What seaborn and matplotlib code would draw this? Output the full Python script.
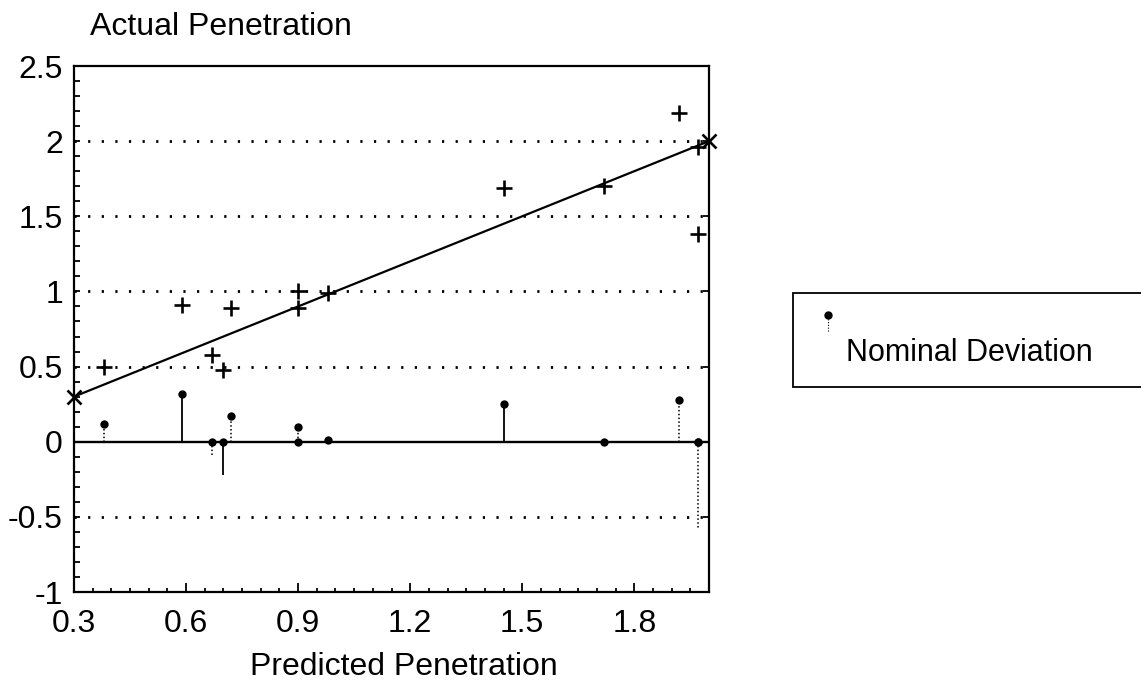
import matplotlib
matplotlib.use("Agg")
import matplotlib.pyplot as plt
from matplotlib.lines import Line2D
from matplotlib.legend_handler import HandlerBase
from matplotlib.ticker import MultipleLocator
import numpy as np
import pandas as pd
import seaborn as sns

# ---- data -------------------------------------------------------------
predicted = [0.38, 0.59, 0.67, 0.70, 0.72, 0.90, 0.90, 0.98, 1.45, 1.72, 1.92, 1.97, 1.97]
actual = [0.50, 0.91, 0.58, 0.48, 0.89, 1.00, 0.89, 0.99, 1.69, 1.70, 2.19, 1.96, 1.38]
deviation = [0.12, 0.32, -0.09, -0.22, 0.17, 0.10, -0.01, 0.01, 0.25, -0.02, 0.28, -0.01, -0.58]
stem_style = ["dotted", "solid", "dotted", "solid", "dotted", "dotted", "solid",
              "solid", "solid", "solid", "dotted", "solid", "dotted"]

fit_x = [0.3, 2.0]
fit_y = [0.3, 2.0]

x_ticks = [0.3, 0.6, 0.9, 1.2, 1.5, 1.8]
x_tick_labels = ["0.3", "0.6", "0.9", "1.2", "1.5", "1.8"]
y_ticks = [-1, -0.5, 0, 0.5, 1, 1.5, 2, 2.5]
y_tick_labels = ["-1", "-0.5", "0", "0.5", "1", "1.5", "2", "2.5"]
grid_levels = [-0.5, 0.5, 1, 1.5, 2]

title_text = "Actual Penetration"
xlabel_text = "Predicted Penetration"
legend_label = "Nominal Deviation"

# ---- style ------------------------------------------------------------
sns.set_theme(style="white")
plt.rcParams["font.family"] = ["Liberation Sans", "DejaVu Sans"]
plt.rcParams["axes.unicode_minus"] = False

W, H = 1141, 698
fig = plt.figure(figsize=(W / 100, H / 100), dpi=100)
ax = fig.add_axes([74 / W, 1 - 592 / H, 635 / W, 526 / H])

df = pd.DataFrame({
    "predicted": predicted,
    "actual": actual,
    "deviation": deviation,
    "stem": stem_style,
})
df["dot"] = df["deviation"].clip(lower=0)

# dotted reference levels and the solid zero line
for level in grid_levels:
    ax.axhline(level, color="black", lw=2.0, ls=(0, (0.8, 4.1)), zorder=1)
ax.axhline(0, color="black", lw=1.7, zorder=2)

# deviation stems from zero
solid = df[df["stem"] == "solid"]
dotted = df[df["stem"] == "dotted"]
ax.vlines(solid["predicted"], 0, solid["deviation"], color="black", lw=1.3, zorder=3)
ax.vlines(dotted["predicted"], 0, dotted["deviation"], color="black", lw=1.1,
          linestyles=[(0, (1.0, 1.5))], zorder=3)

# deviation dots
sns.scatterplot(data=df, x="predicted", y="dot", marker="o", s=36, color="black",
                edgecolor="black", linewidth=0, ax=ax, zorder=4, legend=False)

# perfect-prediction line with its end markers
sns.lineplot(x=fit_x, y=fit_y, ax=ax, color="black", lw=1.6, marker="x",
             markersize=10, markeredgewidth=1.9, markeredgecolor="black",
             zorder=5, legend=False, clip_on=False)

# actual vs predicted points
sns.scatterplot(data=df, x="predicted", y="actual", marker="+", s=130,
                color="black", linewidth=1.9, ax=ax, zorder=6, legend=False)

# ---- axes -------------------------------------------------------------
ax.set_xlim(0.3, 2.0)
ax.set_ylim(-1, 2.5)
ax.set_xticks(x_ticks)
ax.set_xticklabels(x_tick_labels)
ax.set_yticks(y_ticks)
ax.set_yticklabels(y_tick_labels)
ax.xaxis.set_minor_locator(MultipleLocator(0.05))
ax.yaxis.set_minor_locator(MultipleLocator(0.1))
ax.tick_params(which="both", direction="in", colors="black", labelsize=23,
               width=1.3, labelcolor="black", bottom=True, left=True,
               top=False)
ax.tick_params(axis="x", which="major", length=6.5, pad=12)
ax.tick_params(axis="x", which="minor", length=3)
ax.tick_params(axis="y", which="major", length=4.3, pad=8, right=True)
ax.tick_params(axis="y", which="minor", length=4.3, right=False)
for sp in ax.spines.values():
    sp.set_color("black")
    sp.set_linewidth(1.6)
ax.set_ylabel("")
ax.set_xlabel(xlabel_text, fontsize=23, color="black")
ax.xaxis.set_label_coords(0.52, -0.115)
ax.xaxis.label.set_verticalalignment("top")

ax.text(0.025, 1.059, title_text, transform=ax.transAxes, fontsize=23,
        color="black", ha="left", va="baseline")


# ---- legend -------------------------------------------------------------
class StemHandler(HandlerBase):
    def create_artists(self, legend, orig_handle, xdescent, ydescent,
                       width, height, fontsize, trans):
        cx = width / 2 - xdescent
        stem = Line2D([cx, cx], [21.5, 30.0], color="black", lw=0.8,
                      ls=(0, (1.0, 1.5)), transform=trans)
        dot = Line2D([cx], [33.0], marker="o", ms=5, color="black",
                     ls="none", transform=trans)
        return [stem, dot]


proxy = Line2D([], [], color="black")
leg = fig.legend(handles=[proxy], labels=[legend_label],
                 handler_map={proxy: StemHandler()},
                 loc="upper left",
                 bbox_to_anchor=(793 / W, 0, (1170 - 793) / W, 1 - 293 / H),
                 mode="expand", borderaxespad=0, fontsize=22,
                 title=" ", title_fontsize=7, labelspacing=0.5,
                 borderpad=0.64, handlelength=1.0, handletextpad=0.08,
                 fancybox=False, shadow=False, framealpha=1)
leg.get_frame().set_edgecolor("black")
leg.get_frame().set_linewidth(1.3)
for t in leg.get_texts():
    t.set_color("black")

fig.savefig("out.png", dpi=100, facecolor="white")
